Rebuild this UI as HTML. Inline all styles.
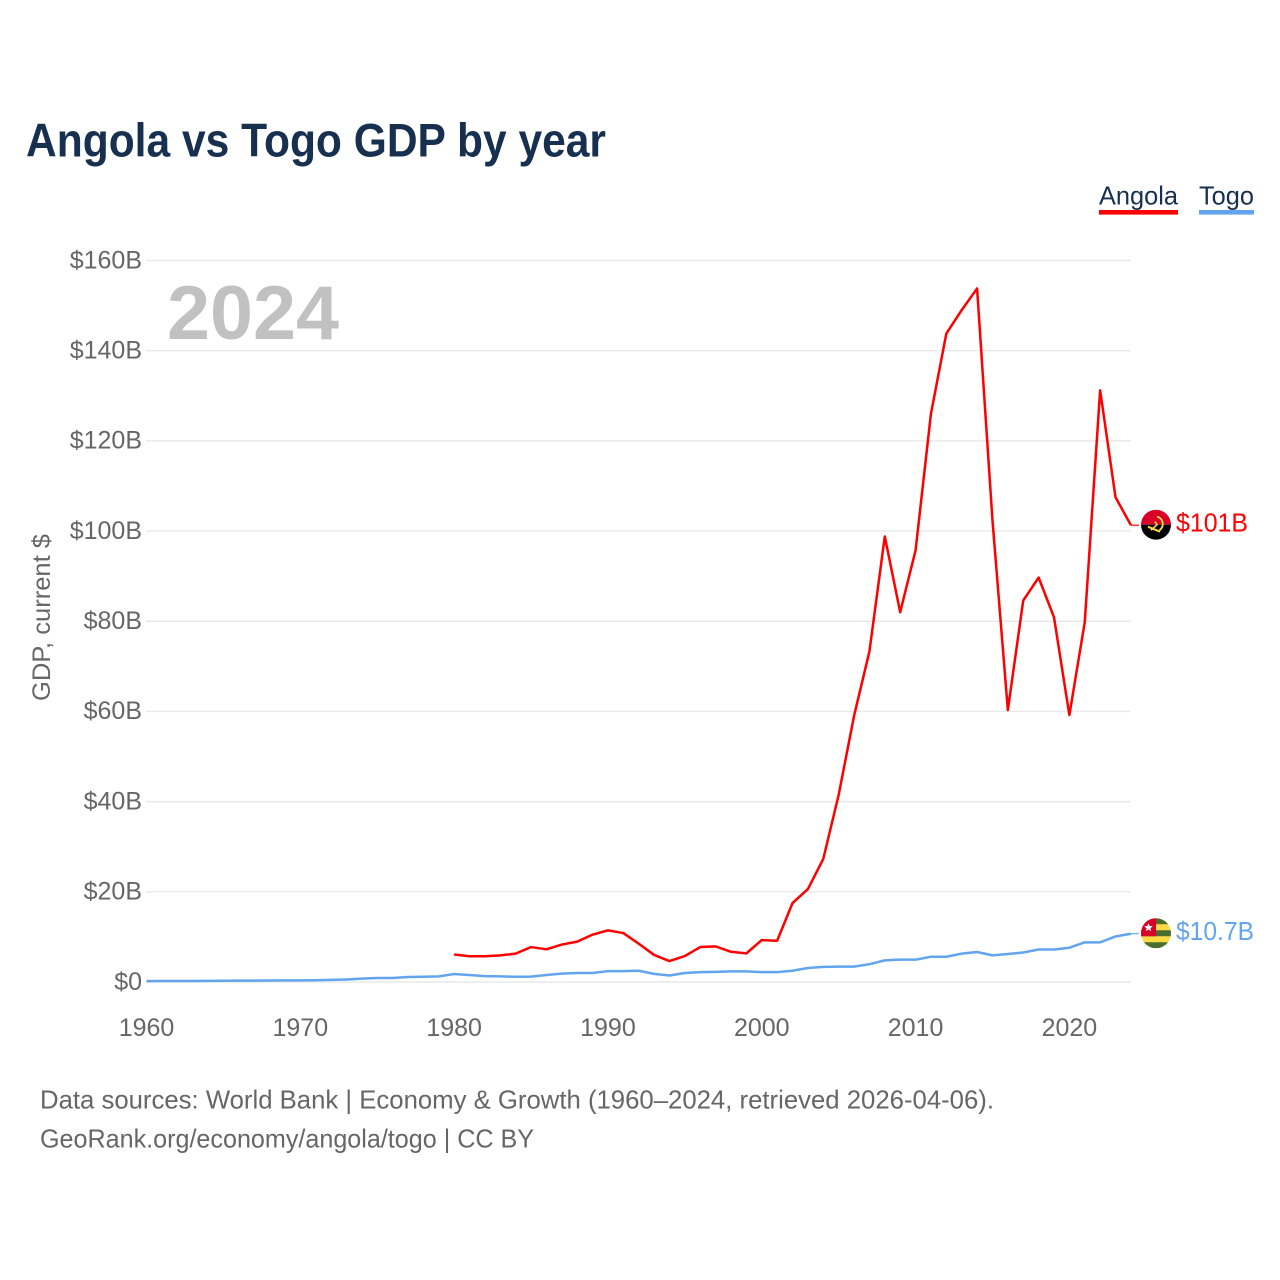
<!DOCTYPE html>
<html lang="en">
<head>
<meta charset="utf-8">
<title>Angola vs Togo GDP by year</title>
<style>
html,body{margin:0;padding:0;background:#fff;}
svg{display:block;font-family:"Liberation Sans",sans-serif;}
</style>
</head>
<body>
<svg id="chart" xmlns="http://www.w3.org/2000/svg" width="1280" height="1280" viewBox="0 0 1280 1280">
  <defs>
    <clipPath id="flag-clip"><circle cx="0" cy="0" r="15"/></clipPath>
  </defs>
  <rect x="0" y="0" width="1280" height="1280" fill="#ffffff"/>
  <text x="26" y="156.5" font-size="47" font-weight="700" fill="#17304f" textLength="580" lengthAdjust="spacingAndGlyphs">Angola vs Togo GDP by year</text>

  <g>
    <g>
      <text x="1099" y="204.5" font-size="26" fill="#17304f" textLength="79" lengthAdjust="spacingAndGlyphs">Angola</text>
      <rect x="1099" y="210" width="79" height="4.6" fill="#ff0000"/>
    </g>
    <g>
      <text x="1199" y="204.5" font-size="26" fill="#17304f" textLength="55" lengthAdjust="spacingAndGlyphs">Togo</text>
      <rect x="1199" y="210" width="55" height="4.6" fill="#62a5ee"/>
    </g>
  </g>

  <g id="grid"></g>
  <g id="y-ticks"></g>
  <g id="x-ticks"></g>

  <text x="167" y="339" font-size="76" font-weight="700" fill="#c1c1c1" textLength="172" lengthAdjust="spacingAndGlyphs">2024</text>
  <text transform="translate(50 701) rotate(-90)" x="0" y="0" font-size="25" fill="#666666" textLength="167" lengthAdjust="spacingAndGlyphs">GDP, current $</text>

  <g id="series"></g>

  <g id="flag-angola">
    <g clip-path="url(#flag-clip)">
      <rect x="-15" y="-15" width="30" height="15" fill="#d80027"/>
      <rect x="-15" y="0" width="30" height="15" fill="#000000"/>
      <path d="M1 -8 A7.5 7.5 0 0 1 3.5 5.5" fill="none" stroke="#ffda44" stroke-width="2"/>
      <path d="M-8 2 L4 7" fill="none" stroke="#ffda44" stroke-width="2"/>
      <path d="M-5 5.5 L1 0 L-1 -3" fill="none" stroke="#ffda44" stroke-width="1.6"/>
    </g>
  </g>
  <g id="flag-togo">
    <g clip-path="url(#flag-clip)">
      <rect x="-15" y="-15" width="30" height="30" fill="#ffda44"/>
      <rect x="-15" y="-15" width="30" height="6" fill="#496e2d"/>
      <rect x="-15" y="-3" width="30" height="6" fill="#496e2d"/>
      <rect x="-15" y="9" width="30" height="6" fill="#496e2d"/>
      <rect x="-15" y="-15" width="15" height="18" fill="#d80027"/>
      <polygon points="-7.5,-10 -6.3,-7.2 -3.2,-7 -5.6,-5 -4.8,-2 -7.5,-3.7 -10.2,-2 -9.4,-5 -11.8,-7 -8.7,-7.2" fill="#ffffff"/>
    </g>
  </g>

  <text x="40" y="1108.5" font-size="26" fill="#666666" textLength="954" lengthAdjust="spacingAndGlyphs">Data sources: World Bank | Economy &amp; Growth (1960–2024, retrieved 2026-04-06).</text>
  <text x="40" y="1147.5" font-size="26" fill="#666666" textLength="494" lengthAdjust="spacingAndGlyphs">GeoRank.org/economy/angola/togo | CC BY</text>
</svg>
<script>
const years = [1960,1961,1962,1963,1964,1965,1966,1967,1968,1969,1970,1971,1972,1973,1974,1975,1976,1977,1978,1979,1980,1981,1982,1983,1984,1985,1986,1987,1988,1989,1990,1991,1992,1993,1994,1995,1996,1997,1998,1999,2000,2001,2002,2003,2004,2005,2006,2007,2008,2009,2010,2011,2012,2013,2014,2015,2016,2017,2018,2019,2020,2021,2022,2023,2024];
const angolaGdp = [null,null,null,null,null,null,null,null,null,null,null,null,null,null,null,null,null,null,null,null,6.1,5.7,5.7,5.9,6.3,7.75,7.25,8.3,8.95,10.5,11.45,10.85,8.5,6.0,4.65,5.75,7.75,7.9,6.7,6.35,9.3,9.15,17.5,20.6,27.3,41.5,59.0,73.3,98.8,82.0,95.7,126.0,143.8,149.0,153.8,102.4,60.3,84.6,89.7,80.9,59.2,79.8,131.2,107.5,101.3];
const togoGdp = [0.2,0.21,0.22,0.23,0.25,0.28,0.3,0.31,0.33,0.37,0.35,0.4,0.47,0.55,0.75,0.9,0.9,1.1,1.15,1.25,1.76,1.55,1.3,1.25,1.15,1.18,1.55,1.85,2.0,2.0,2.4,2.4,2.5,1.8,1.45,2.0,2.2,2.25,2.35,2.35,2.2,2.2,2.5,3.1,3.35,3.4,3.4,3.95,4.8,4.95,4.95,5.6,5.6,6.3,6.65,5.9,6.2,6.55,7.2,7.2,7.6,8.8,8.8,10.1,10.7];
const yTickValues = [0,20,40,60,80,100,120,140,160];
const yTickLabels = ["$0","$20B","$40B","$60B","$80B","$100B","$120B","$140B","$160B"];
const xTickValues = [1960,1970,1980,1990,2000,2010,2020];
const xTickLabels = ["1960","1970","1980","1990","2000","2010","2020"];
const endLabels = ["$101B","$10.7B"];

const SVG_NS = "http://www.w3.org/2000/svg";
function xScale(year){ return 146.5 + (year - 1960) * (1130.9 - 146.5) / 64; }
function yScale(value){ return 982 - value * (982 - 260.5) / 160; }
function make(tag, attrs, parent){
  const el = document.createElementNS(SVG_NS, tag);
  for (const k in attrs) el.setAttribute(k, attrs[k]);
  parent.appendChild(el);
  return el;
}

const gridLayer = document.getElementById("grid");
const yLayer = document.getElementById("y-ticks");
const xLayer = document.getElementById("x-ticks");
const seriesLayer = document.getElementById("series");

yTickValues.forEach(function(v, i){
  const line = make("line", {x1: 146, x2: xScale(2024), y1: yScale(v), y2: yScale(v), stroke: "#e9e9e9", "stroke-width": 1.4}, gridLayer);
  
  
  const label = make("text", {x: 142, y: yScale(v) + 7.8, "text-anchor": "end", "font-size": 25, fill: "#666666"}, yLayer);
  
  
  label.textContent = yTickLabels[i];
});

xTickValues.forEach(function(v, i){
  const label = make("text", {x: xScale(v), y: 1036, "text-anchor": "middle", "font-size": 25, fill: "#666666"}, xLayer);
  
  
  label.textContent = xTickLabels[i];
});

function linePath(values){
  let d = "";
  values.forEach(function(v, i){
    if (v === null) return;
    d += (d ? "L" : "M") + xScale(years[i]).toFixed(2) + " " + yScale(v).toFixed(2);
  });
  return d;
}

function drawSeries(values, color, seriesName, flagId, labelText, labelWidth){
  const last = values[values.length - 1];
  const endX = xScale(years[years.length - 1]);
  const endY = yScale(last);

  const path = make("path", {d: linePath(values), fill: "none", stroke: color, "stroke-width": 2.5, "stroke-linejoin": "round"}, seriesLayer);
  
  

  const connector = make("line", {x1: endX, x2: endX + 8, y1: endY, y2: endY, stroke: color, "stroke-width": 1.2}, seriesLayer);
  
  

  document.getElementById(flagId).setAttribute("transform", "translate(1156 " + (endY - 0.5).toFixed(2) + ")");

  const label = make("text", {x: 1176, y: endY + 6.5, "font-size": 26, fill: color, textLength: labelWidth, lengthAdjust: "spacingAndGlyphs"}, seriesLayer);
  
  
  label.textContent = labelText;
}

drawSeries(togoGdp, "#62a5ee", "togo", "flag-togo", endLabels[1], 78);
drawSeries(angolaGdp, "#ff0000", "angola", "flag-angola", endLabels[0], 72);
</script>
</body>
</html>
